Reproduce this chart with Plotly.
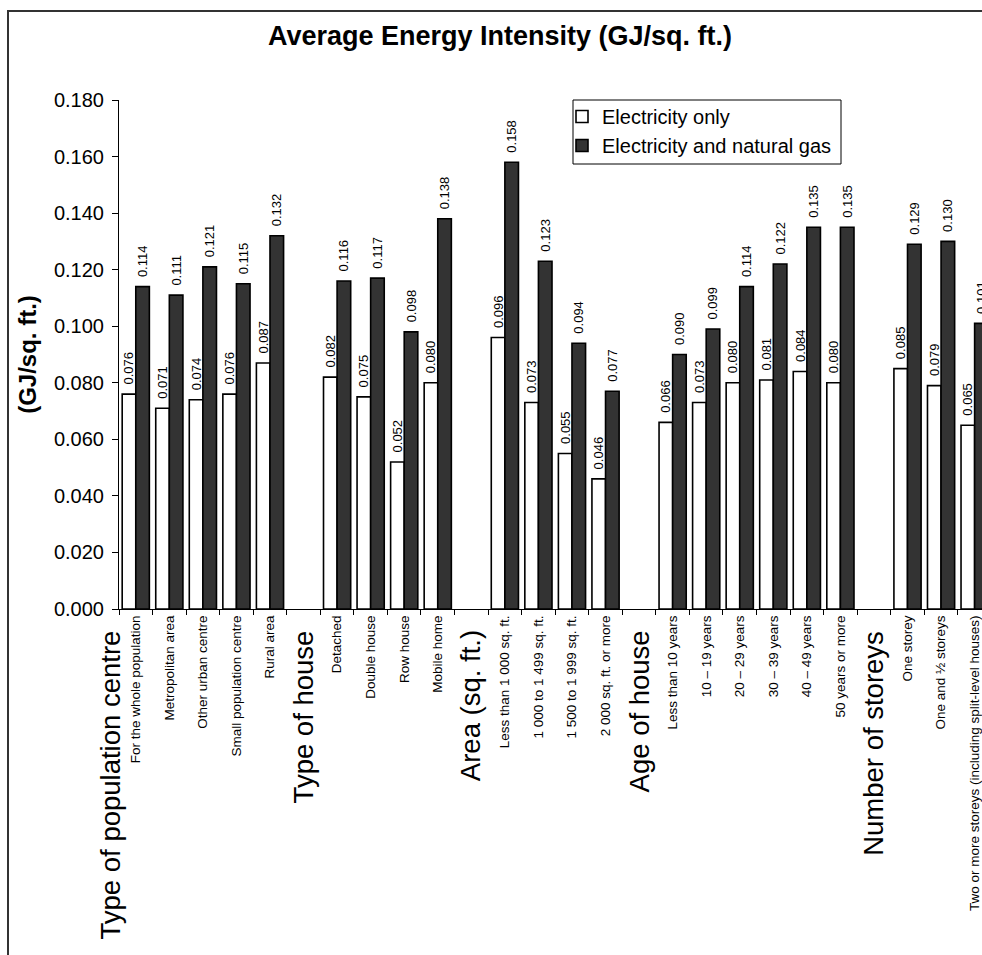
import plotly.graph_objects as go

# ---------------- data ----------------
categories = [
    "For the whole population", "Metropolitan area", "Other urban centre",
    "Small population centre", "Rural area",
    "",
    "Detached", "Double house", "Row house", "Mobile home",
    "",
    "Less than 1 000 sq. ft.", "1 000 to 1 499 sq. ft.", "1 500 to 1 999 sq. ft.",
    "2 000 sq. ft. or more",
    "",
    "Less than 10 years", "10 – 19 years", "20 – 29 years", "30 – 39 years",
    "40 – 49 years", "50 years or more",
    "",
    "One storey", "One and ½ storeys",
    "Two or more storeys (including split-level houses)",
]
elec_only = [0.076, 0.071, 0.074, 0.076, 0.087,
             None,
             0.082, 0.075, 0.052, 0.080,
             None,
             0.096, 0.073, 0.055, 0.046,
             None,
             0.066, 0.073, 0.080, 0.081, 0.084, 0.080,
             None,
             0.085, 0.079, 0.065]
elec_gas = [0.114, 0.111, 0.121, 0.115, 0.132,
            None,
            0.116, 0.117, 0.098, 0.138,
            None,
            0.158, 0.123, 0.094, 0.077,
            None,
            0.090, 0.099, 0.114, 0.122, 0.135, 0.135,
            None,
            0.129, 0.130, 0.101]
group_headers = ["Type of population centre", "Type of house", "Area (sq. ft.)",
                 "Age of house", "Number of storeys"]
series_names = ["Electricity only", "Electricity and natural gas"]
title_text = "Average Energy Intensity (GJ/sq. ft.)"
y_title = "(GJ/sq. ft.)"

# ---------------- layout helpers ----------------
FONT = "Liberation Sans, Arial, sans-serif"
n = len(categories)
xs = list(range(n))
x_min, x_max = -0.5, 25.22
tick_pos = [i for i, c in enumerate(categories) if c]
tick_txt = [c for c in categories if c]
blank_slots = [i for i, c in enumerate(categories) if not c]
header_pos = [-0.75] + blank_slots   # first header sits left of the first slot

W, H = 982, 955
L, R, T, B = 119, 0, 100, 346
pw, ph = W - L - R, H - T - B


def frac(v):
    return (v - x_min) / (x_max - x_min)


def px_x(p):
    return (p - L) / pw


def px_y(p):
    return (T + ph - p) / ph


def labels(vals):
    # leading en-space lifts the value a little off the bar top
    return [("" if v is None else "\u2002" + f"{v:.3f}") for v in vals]


fig = go.Figure()
fig.add_trace(go.Bar(
    x=xs, y=elec_only, name=series_names[0],
    marker=dict(color="white", line=dict(color="black", width=1.6)),
    text=labels(elec_only), textposition="outside", textangle=-90,
    textfont=dict(size=13, color="black", family=FONT),
    constraintext="none", cliponaxis=False,
))
fig.add_trace(go.Bar(
    x=xs, y=elec_gas, name=series_names[1],
    marker=dict(color="#333333", line=dict(color="black", width=1.6)),
    text=labels(elec_gas), textposition="outside", textangle=-90,
    textfont=dict(size=13, color="black", family=FONT),
    constraintext="none", cliponaxis=False,
))

annotations = []
for h, p in zip(group_headers, header_pos):
    annotations.append(dict(
        text=h, xref="paper", yref="paper", x=frac(p), y=-0.038,
        xanchor="center", yanchor="top", textangle=-90, showarrow=False,
        font=dict(size=27.5, color="black", family=FONT),
    ))

fig.update_layout(
    width=W, height=H,
    margin=dict(l=L, r=R, t=T, b=B, pad=0),
    paper_bgcolor="white", plot_bgcolor="white",
    font=dict(family=FONT, color="black"),
    barmode="group", bargap=0.19, bargroupgap=0,
    title=dict(text=f"<b>{title_text}</b>", x=500 / W, xanchor="center",
               y=1 - 36 / H, yanchor="middle",
               font=dict(size=27, family=FONT, color="black")),
    xaxis=dict(range=[x_min, x_max], tickmode="array", tickvals=tick_pos,
               ticktext=tick_txt, tickangle=-90, ticks="",
               ticklabeloverflow="allow",
               tickfont=dict(size=13.5, family=FONT, color="black"),
               showline=True, linecolor="black", linewidth=1,
               showgrid=False, zeroline=False,
               minor=dict(tickmode="array",
                          tickvals=[i - 0.5 for i in range(n + 1)],
                          ticks="outside", ticklen=5, tickcolor="black",
                          tickwidth=1, showgrid=False)),
    yaxis=dict(range=[0, 0.18], dtick=0.02, tick0=0, tickformat=".3f",
               ticks="outside", ticklen=6, tickcolor="black",
               ticklabelstandoff=4,
               tickfont=dict(size=20, family=FONT, color="black"),
               showline=True, linecolor="black", linewidth=1,
               showgrid=False, zeroline=False,
               title=dict(text=f"<b>{y_title}</b>", standoff=10,
                          font=dict(size=24, family=FONT, color="black"))),
    legend=dict(x=px_x(562), y=px_y(97), xanchor="left", yanchor="top",
                bgcolor="rgba(0,0,0,0)", borderwidth=0,
                font=dict(size=20, family=FONT, color="black"),
                itemwidth=30, tracegroupgap=0),
    annotations=annotations,
    shapes=[
        dict(type="rect", xref="paper", yref="paper",
             x0=px_x(8), x1=px_x(W + 10), y0=px_y(H + 10), y1=px_y(11),
             line=dict(color="#333333", width=2), layer="below"),
        dict(type="rect", xref="paper", yref="paper",
             x0=px_x(573), x1=px_x(841), y0=px_y(164), y1=px_y(100),
             fillcolor="white", line=dict(color="black", width=1),
             layer="above"),
    ],
)

fig.write_html("out.html")
